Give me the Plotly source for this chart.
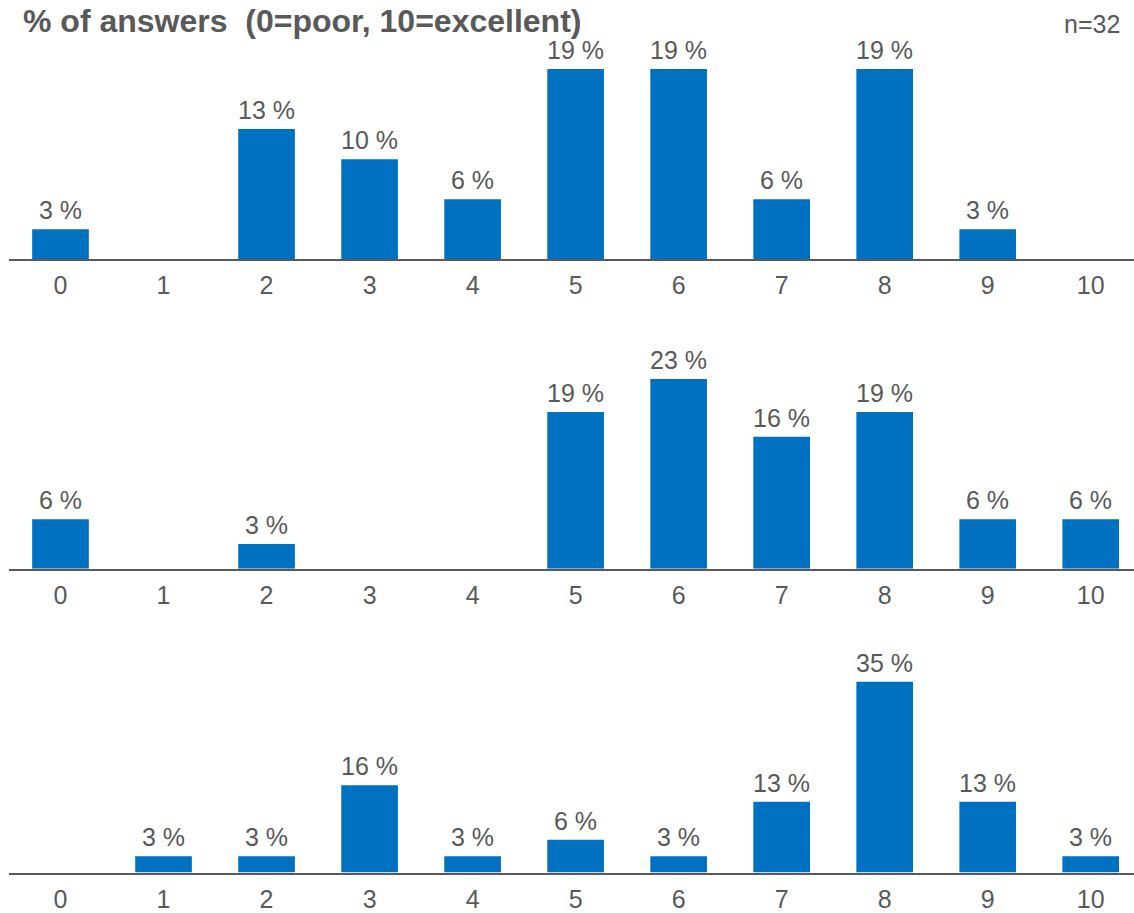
import plotly.graph_objects as go

# Rating scale shown on every panel
categories = ["0", "1", "2", "3", "4", "5", "6", "7", "8", "9", "10"]

# Share of answers (%) per rating, one list per question
panel_1 = [3, 0, 13, 10, 6, 19, 19, 6, 19, 3, 0]
panel_2 = [6, 0, 3, 0, 0, 19, 23, 16, 19, 6, 6]
panel_3 = [0, 3, 3, 16, 3, 6, 3, 13, 35, 13, 3]

title_text = "% of answers&nbsp;&nbsp;(0=poor, 10=excellent)"
sample_text = "n=32"

BAR_COLOR = "#0070C0"
TEXT_COLOR = "#595959"
FONT = "Liberation Sans, Arial, Helvetica, sans-serif"

W, H = 1134, 913

panels = [panel_1, panel_2, panel_3]
# (baseline px, top px, y max) for each panel
frames = [(260, 60, 19.9), (570, 370, 24.2), (874.5, 674.5, 36.6)]

fig = go.Figure()
annotations = []

for i, (vals, (base_px, top_px, ymax)) in enumerate(zip(panels, frames), start=1):
    xa = "x" if i == 1 else f"x{i}"
    ya = "y" if i == 1 else f"y{i}"
    fig.add_trace(go.Bar(
        x=categories, y=vals, xaxis=xa, yaxis=ya,
        marker=dict(color=BAR_COLOR, line=dict(width=0)),
        width=0.55, hoverinfo="skip", showlegend=False,
    ))
    for c, v in zip(categories, vals):
        if v > 0:
            annotations.append(dict(
                x=c, y=v, xref=xa, yref=ya, text=f"{v} %",
                showarrow=False, yanchor="bottom", yshift=3,
                font=dict(family=FONT, size=25, color=TEXT_COLOR),
            ))
    xkey = "xaxis" if i == 1 else f"xaxis{i}"
    ykey = "yaxis" if i == 1 else f"yaxis{i}"
    fig.layout[xkey] = dict(
        type="category", domain=[9 / W, 1], range=[-0.5, 10.42],
        anchor=ya, showline=True, linecolor=TEXT_COLOR, linewidth=2,
        showgrid=False, zeroline=False, ticks="", ticklabelstandoff=3,
        tickfont=dict(family=FONT, size=25, color=TEXT_COLOR),
        fixedrange=True,
    )
    fig.layout[ykey] = dict(
        domain=[1 - base_px / H, 1 - top_px / H], range=[0, ymax],
        anchor=xa, visible=False, showgrid=False, zeroline=False,
        fixedrange=True,
    )

annotations.append(dict(
    x=21 / W, y=1 - 1 / H, xref="paper", yref="paper", xanchor="left",
    yanchor="top", showarrow=False, text=f"<b>{title_text}</b>",
    font=dict(family=FONT, size=32, color=TEXT_COLOR),
))
annotations.append(dict(
    x=1122 / W, y=1 - 8 / H, xref="paper", yref="paper", xanchor="right",
    yanchor="top", showarrow=False, text=sample_text,
    font=dict(family=FONT, size=25, color=TEXT_COLOR),
))

fig.update_layout(
    width=W, height=H,
    margin=dict(l=0, r=0, t=0, b=0),
    paper_bgcolor="white", plot_bgcolor="white",
    annotations=annotations, bargap=0.45,
    font=dict(family=FONT, color=TEXT_COLOR),
)

fig.write_html("out.html", include_plotlyjs=True, config={"displayModeBar": False})
